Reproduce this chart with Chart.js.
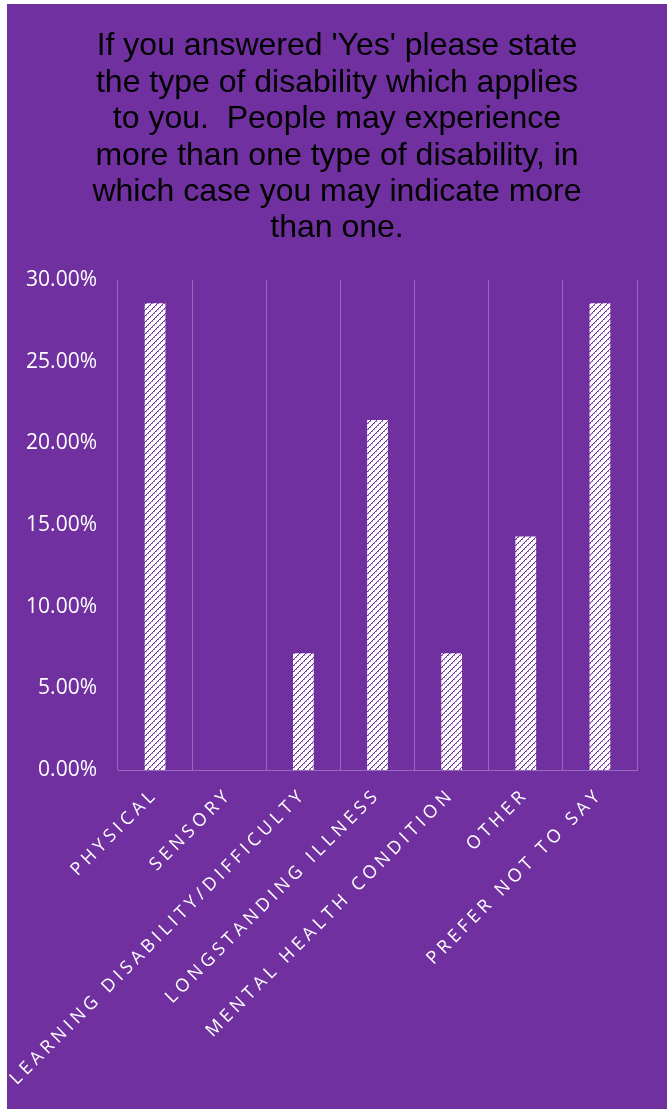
<!DOCTYPE html>
<html lang="en">
<head>
<meta charset="UTF-8">
<title>Type of disability</title>
<style>
  html, body { margin: 0; padding: 0; background: #ffffff; }
  .chart-box { position: absolute; left: 7px; top: 4px; width: 660px; height: 1105px; background: #7030a0; }
</style>
</head>
<body>
<div class="chart-box"><canvas id="myChart"></canvas></div>
<script src="https://cdn.jsdelivr.net/npm/chart.js@4/dist/chart.umd.min.js"></script>
<script>
var categories = ['PHYSICAL', 'SENSORY', 'LEARNING DISABILITY/DIFFICULTY', 'LONGSTANDING ILLNESS',
                  'MENTAL HEALTH CONDITION', 'OTHER', 'PREFER NOT TO SAY'];
var percentages = [28.57, 0, 7.14, 21.43, 7.14, 14.29, 28.57];
var yMin = 0, yMax = 30, yStep = 5;
var titleLines = [
    "If you answered 'Yes' please state",
    "the type of disability which applies",
    "to you.  People may experience",
    "more than one type of disability, in",
    "which case you may indicate more",
    "than one."
];

// white bar with dashed upward diagonals
function hatch() {
    var c = document.createElement('canvas');
    c.width = 6; c.height = 6;
    var g = c.getContext('2d');
    g.fillStyle = '#ffffff';
    g.fillRect(0, 0, 6, 6);
    for (var i = 0; i < 6; i++) {
        g.fillStyle = '#7030a0';
        g.fillRect(i, 5 - i, 1, 1);
        if (i % 2 == 0) {
            g.fillStyle = '#a888cc';
            g.fillRect((i + 1) % 6, 5 - i, 1, 1);
        }
    }
    return g.createPattern(c, 'repeat');
}

// wide letter spacing on the category labels only
var spacedLabels = {
    id: 'spacedLabels',
    afterLayout: function(chart) {
        var sc = chart.scales.x;
        if (sc._spaced) return;
        var orig = sc.drawLabels;
        sc.drawLabels = function(area) {
            this.ctx.save();
            this.ctx.letterSpacing = '4.2px';
            orig.call(this, area);
            this.ctx.restore();
        };
        sc._spaced = true;
    }
};

var lineColor = '#9a6cc0';

new Chart(document.getElementById('myChart'), {
    type: 'bar',
    data: {
        labels: categories,
        datasets: [{
            data: percentages,
            backgroundColor: hatch(),
            borderWidth: 0,
            barPercentage: 0.28,
            categoryPercentage: 1
        }]
    },
    options: {
        responsive: true,
        maintainAspectRatio: false,
        animation: false,
        layout: { padding: 0 },
        plugins: {
            legend: { display: false },
            tooltip: { enabled: false },
            title: {
                display: true,
                text: titleLines,
                color: '#000000',
                font: { family: 'Liberation Sans', size: 32, weight: 'normal', lineHeight: 1.14 },
                padding: { top: 24, bottom: 33 }
            }
        },
        scales: {
            x: {
                grid: { offset: true, color: lineColor, lineWidth: 1, drawTicks: false },
                border: { color: lineColor, width: 1 },
                ticks: {
                    color: '#ffffff',
                    font: { family: 'Open Sans', size: 18 },
                    minRotation: 45,
                    maxRotation: 45,
                    autoSkip: false,
                    padding: 14
                },
                afterFit: function(s) { s.height = 339; }
            },
            y: {
                min: yMin,
                max: yMax,
                grid: { display: false, drawTicks: false },
                border: { display: false },
                ticks: {
                    stepSize: yStep,
                    color: '#ffffff',
                    font: { family: 'Open Sans', size: 21 },
                    padding: 21,
                    callback: function(v) { return v.toFixed(2) + '%'; }
                },
                afterFit: function(s) { s.width = 111; }
            },
            // empty strip on the right so the title stays centred on the whole panel
            gap: {
                position: 'right',
                grid: { display: false, drawTicks: false },
                border: { display: false },
                ticks: { display: false },
                afterFit: function(s) { s.width = 30; }
            }
        }
    },
    plugins: [spacedLabels]
});
</script>
</body>
</html>
